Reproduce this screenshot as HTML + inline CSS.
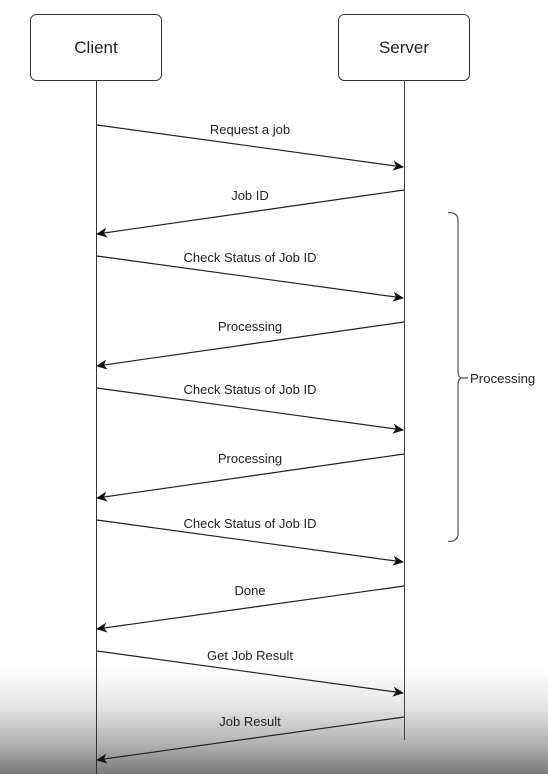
<!DOCTYPE html>
<html><head><style>
html,body{margin:0;padding:0;}
body{width:548px;height:774px;overflow:hidden;background:linear-gradient(to bottom,#fff 0px,#fff 665px,#e6e6e6 705px,#b0b0b0 745px,#7a7a7a 774px);}
svg{position:absolute;left:0;top:0;}
text{font-family:"Liberation Sans",sans-serif;fill:#222;}
</style></head><body>
<svg width="548" height="774" viewBox="0 0 548 774">
<defs><marker id="a" markerWidth="12" markerHeight="10" refX="10" refY="5" orient="auto" markerUnits="userSpaceOnUse"><path d="M0,0 L11,5 L0,10 L3,5 Z" fill="#111"/></marker></defs>
<rect x="30.5" y="14.5" width="131" height="66" rx="6" fill="#fff" stroke="#333" stroke-width="1"/>
<rect x="338.5" y="14.5" width="131" height="66" rx="6" fill="#fff" stroke="#333" stroke-width="1"/>
<text x="96" y="53" font-size="17" text-anchor="middle">Client</text>
<text x="404" y="53" font-size="17" text-anchor="middle">Server</text>
<line x1="96.5" y1="80" x2="96.5" y2="774" stroke="#333"/>
<line x1="404.5" y1="80" x2="404.5" y2="740" stroke="#444"/>
<g stroke="#222" stroke-width="1.2" fill="none" marker-end="url(#a)">
<line x1="97" y1="125" x2="403" y2="167"/>
<line x1="404" y1="190" x2="97" y2="234"/>
<line x1="97" y1="256" x2="403" y2="298"/>
<line x1="404" y1="322" x2="97" y2="366"/>
<line x1="97" y1="388" x2="403" y2="430"/>
<line x1="404" y1="454" x2="97" y2="498"/>
<line x1="97" y1="520" x2="403" y2="562"/>
<line x1="404" y1="586" x2="97" y2="629"/>
<line x1="97" y1="651" x2="403" y2="693"/>
<line x1="404" y1="717" x2="97" y2="760"/>
</g>
<g font-size="13" text-anchor="middle">
<text x="250" y="134">Request a job</text>
<text x="250" y="200">Job ID</text>
<text x="250" y="262">Check Status of Job ID</text>
<text x="250" y="331">Processing</text>
<text x="250" y="394">Check Status of Job ID</text>
<text x="250" y="463">Processing</text>
<text x="250" y="528">Check Status of Job ID</text>
<text x="250" y="595">Done</text>
<text x="250" y="660">Get Job Result</text>
<text x="250" y="726">Job Result</text>
</g>
<path d="M448,212.5 Q458,212.5 458,220 L458,370 Q458,378 462,378 L468,378 M462,378 Q458,378 458,386 L458,534 Q458,541.5 448,541.5" fill="none" stroke="#555" stroke-width="1.2"/>
<text x="470" y="383" font-size="13.2">Processing</text>
</svg>
</body></html>
